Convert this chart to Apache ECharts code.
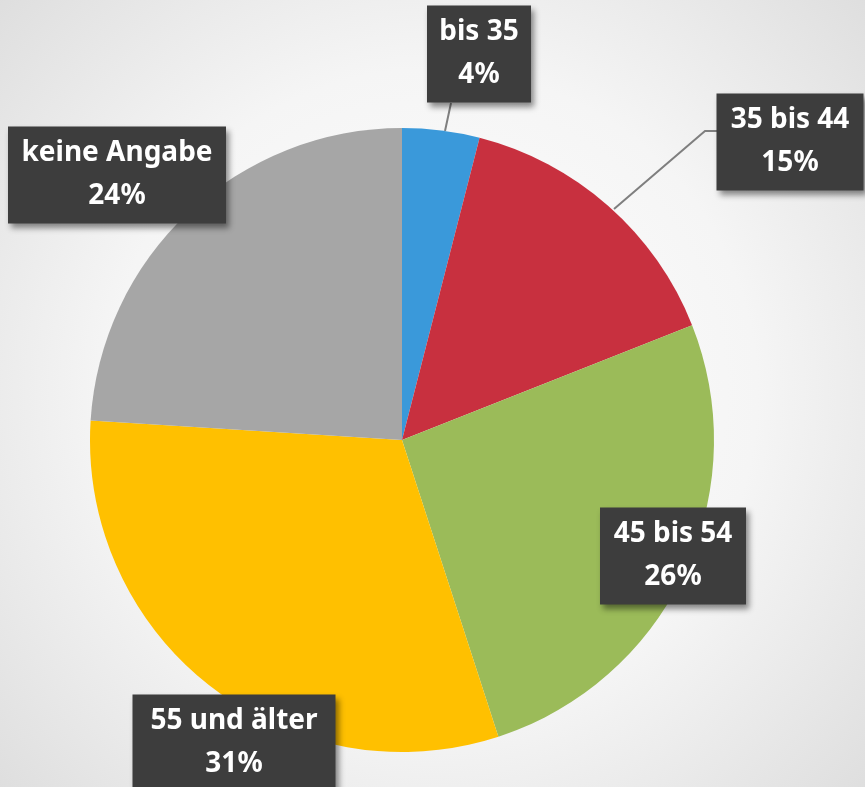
<!DOCTYPE html>
<html>
<head>
<meta charset="utf-8">
<script src="https://cdn.jsdelivr.net/npm/echarts@6/dist/echarts.min.js"></script>
<style>
  html, body { margin: 0; padding: 0; }
  #piechart { width: 865px; height: 787px; }
</style>
</head>
<body>
<div id="piechart"></div>
<script>
var categories = ['bis 35', '35 bis 44', '45 bis 54', '55 und älter', 'keine Angabe'];
var shares = [4, 15, 26, 31, 24];
var colors = ['#3A99DA', '#C8303F', '#9BBB59', '#FFC000', '#A6A6A6'];

// label box centres and inner widths (px); leader lines only for the two small slices
var labelPos = [[479, 54], [790, 142], [673, 556], [234, 743], [117, 175]];
var boxWidth = [82, 125, 124, 181, 196];
var linePoints = [
    [[445, 131], [448, 117], [451, 103]],
    [[614, 209], [705, 131], [717, 131]],
    null, null, null
];

var piechart = echarts.init(document.getElementById('piechart'));

var data = categories.map(function (name, i) {
    return {
        name: name,
        value: shares[i],
        label: { width: boxWidth[i] },
        labelLine: { show: linePoints[i] != null }
    };
});

option = {
    backgroundColor: {
        type: 'radial', x: 0.5, y: 0.5, r: 0.75,
        colorStops: [
            { offset: 0, color: '#ffffff' },
            { offset: 0.55, color: '#f5f5f5' },
            { offset: 1, color: '#dedede' }
        ]
    },
    color: colors,
    animation: false,
    series: [
        {
            type: 'pie',
            center: [402, 440],
            radius: 312,
            startAngle: 90,
            clockwise: true,
            data: data,
            label: {
                show: true,
                position: 'outside',
                overflow: 'none',
                align: 'center',
                formatter: '{b}\n{d}%',
                color: '#ffffff',
                fontFamily: 'Noto Sans',
                fontWeight: 'bold',
                fontSize: 28,
                lineHeight: 43,
                backgroundColor: '#3d3d3d',
                padding: [8, 11, 3, 11],
                shadowColor: 'rgba(0,0,0,0.45)',
                shadowBlur: 6,
                shadowOffsetX: 3,
                shadowOffsetY: 4
            },
            labelLine: {
                lineStyle: { color: '#7f7f7f', width: 2 }
            },
            labelLayout: function (params) {
                var i = params.dataIndex;
                var res = { x: labelPos[i][0], y: labelPos[i][1], align: 'center', verticalAlign: 'middle' };
                if (linePoints[i]) res.labelLinePoints = linePoints[i];
                return res;
            }
        }
    ]
};

piechart.setOption(option);
</script>
</body>
</html>
